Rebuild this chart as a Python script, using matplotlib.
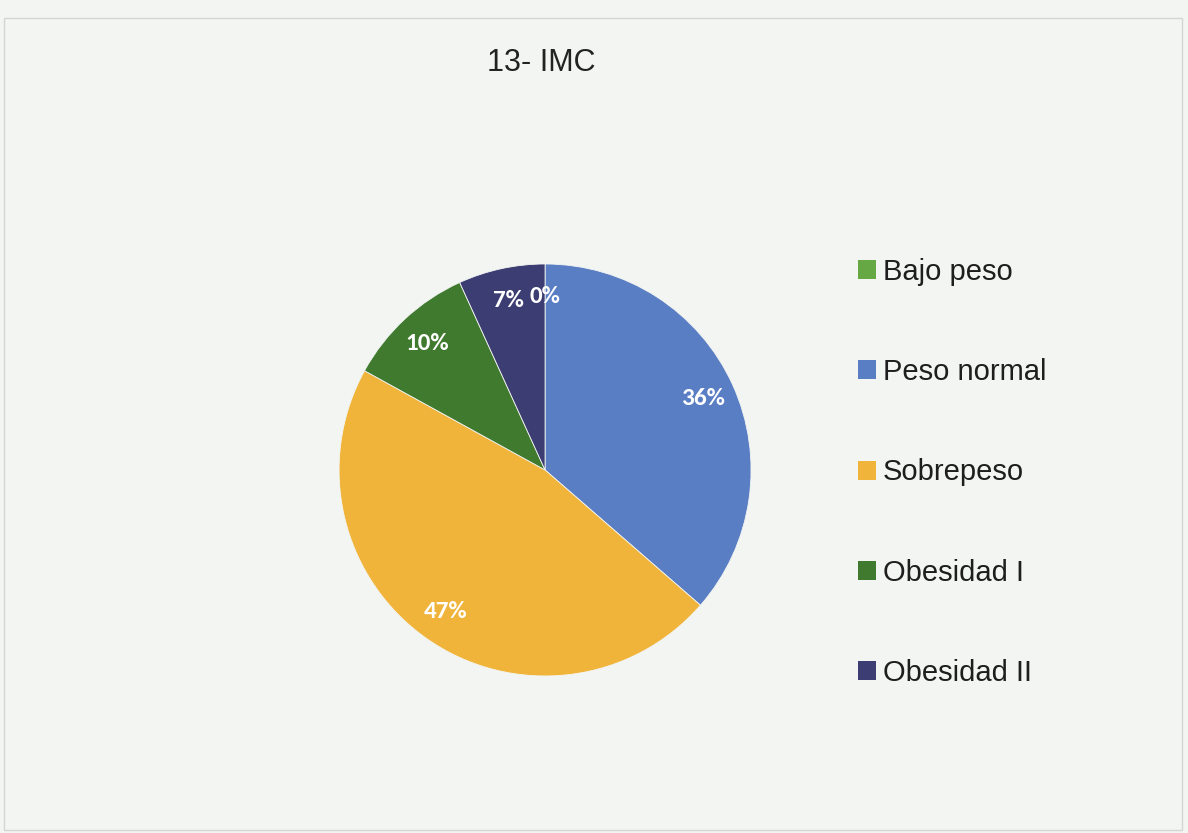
import numpy as np
import matplotlib.pyplot as plt
from matplotlib.patches import Patch, Rectangle

categorias = ["Bajo peso", "Peso normal", "Sobrepeso", "Obesidad I", "Obesidad II"]
porcentajes = [0, 36.4, 46.6, 10.2, 6.8]
etiquetas = ["0%", "36%", "47%", "10%", "7%"]
colores = ["#66a844", "#5a7ec4", "#f0b43a", "#3f7a2f", "#3c3d72"]

fig = plt.figure(figsize=(11.88, 8.33), dpi=100)
fig.patch.set_facecolor("#f3f5f2")

# borde tenue del grafico
fig.patches.append(Rectangle((0.003, 0.004), 0.992, 0.974, transform=fig.transFigure,
                             fill=False, edgecolor="#d4d6d4", linewidth=1))

fig.text(0.456, 0.924, "13- IMC", ha="center", va="center", fontsize=22,
         family="Liberation Sans", color="#222222")

ax = fig.add_axes([0.2854, 0.1885, 0.3468, 0.4946])
ax.set_facecolor("none")
wedges, _ = ax.pie(porcentajes, colors=colores, startangle=90, counterclock=False,
                   radius=1, wedgeprops=dict(linewidth=0.6, edgecolor="#f3f5f2"))

# etiquetas dentro de cada sector
for w, lab in zip(wedges, etiquetas):
    ang = np.deg2rad((w.theta1 + w.theta2) / 2)
    ax.text(0.84 * np.cos(ang), 0.84 * np.sin(ang), lab, ha="center", va="center",
            fontsize=18, fontweight="bold", color="white", family="Carlito")

ax.set_xlim(-1, 1)
ax.set_ylim(-1, 1)
ax.set_aspect("equal")
ax.axis("off")

handles = [Patch(facecolor=c, edgecolor="none") for c in colores]
leg = fig.legend(handles, categorias, loc="upper left", bbox_to_anchor=(0.7125, 0.7045),
                 frameon=False, prop={"family": "Liberation Sans", "size": 21},
                 handlelength=0.62, handleheight=0.62, handletextpad=0.22,
                 labelspacing=2.48, borderaxespad=0)
for t in leg.get_texts():
    t.set_color("#1e1e1e")

fig.savefig("out.png", dpi=100, facecolor=fig.get_facecolor())
